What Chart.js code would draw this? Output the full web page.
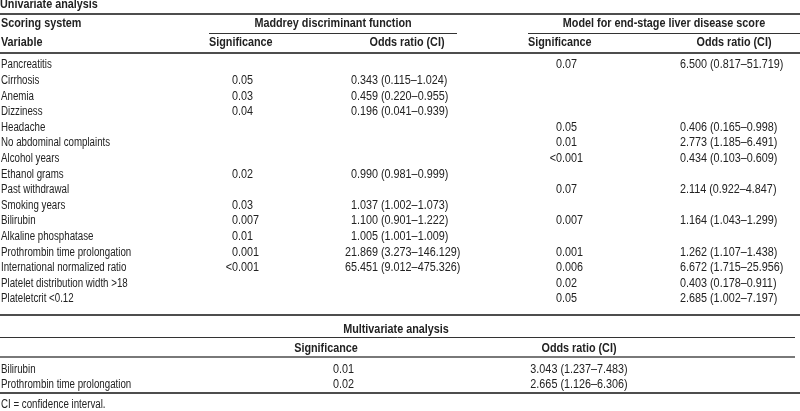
<!DOCTYPE html>
<html>
<head>
<meta charset="utf-8">
<title>Univariate and multivariate analysis</title>
<script src="https://cdn.jsdelivr.net/npm/chart.js@4.4.1/dist/chart.umd.min.js"></script>
<style>
    html, body { margin: 0; padding: 0; background: #fff; }
    .chart-body { position: relative; width: 800px; height: 411px; }
</style>
</head>
<body>
<div class="chart-body">
    <canvas id="tableChart"></canvas>
</div>
<script>
// ---- Table data ----
const variables = [
    'Pancreatitis', 'Cirrhosis', 'Anemia', 'Dizziness', 'Headache',
    'No abdominal complaints', 'Alcohol years', 'Ethanol grams', 'Past withdrawal',
    'Smoking years', 'Bilirubin', 'Alkaline phosphatase', 'Prothrombin time prolongation',
    'International normalized ratio', 'Platelet distribution width >18', 'Plateletcrit <0.12'
];
const maddreySig = [
    null, '0.05', '0.03', '0.04', null, null, null, '0.02', null,
    '0.03', '0.007', '0.01', '0.001', '<0.001', null, null
];
const maddreyOdds = [
    null, '0.343 (0.115–1.024)', '0.459 (0.220–0.955)', '0.196 (0.041–0.939)', null, null, null,
    '0.990 (0.981–0.999)', null, '1.037 (1.002–1.073)', '1.100 (0.901–1.222)', '1.005 (1.001–1.009)',
    '21.869 (3.273–146.129)', '65.451 (9.012–475.326)', null, null
];
const meldSig = [
    '0.07', null, null, null, '0.05', '0.01', '<0.001', null, '0.07',
    null, '0.007', null, '0.001', '0.006', '0.02', '0.05'
];
const meldOdds = [
    '6.500 (0.817–51.719)', null, null, null, '0.406 (0.165–0.998)', '2.773 (1.185–6.491)',
    '0.434 (0.103–0.609)', null, '2.114 (0.922–4.847)', null, '1.164 (1.043–1.299)', null,
    '1.262 (1.107–1.438)', '6.672 (1.715–25.956)', '0.403 (0.178–0.911)', '2.685 (1.002–7.197)'
];
const multiVariables = ['Bilirubin', 'Prothrombin time prolongation'];
const multiSig = ['0.01', '0.02'];
const multiOdds = ['3.043 (1.237–7.483)', '2.665 (1.126–6.306)'];

const titleUni = 'Univariate analysis';
const titleMulti = 'Multivariate analysis';
const groupLabels = ['Maddrey discriminant function', 'Model for end-stage liver disease score'];
const stubLabels = ['Scoring system', 'Variable'];
const subLabels = ['Significance', 'Odds ratio (CI)'];
const footnote = 'CI = confidence interval.';

// ---- Layout (x in page units, y in row units; row i of the univariate block sits at y = i) ----
const LAYOUT = {
    font: '"Liberation Sans", Arial, sans-serif',
    size: 12,
    squeeze: { text: 0.81, num: 0.9, bold: 0.9 },
    text: '#222',
    rule: '#4d4d4d',
    rows: { uniTitle: -3.85, scoring: -2.63, variable: -1.41, multiTitle: 16.99, multiHead: 18.21, multiFirst: 19.55, multiStep: 0.962, note: 21.8 },
    rules: [
        { y: -3.27, x0: 0, x1: 800, w: 2 },
        { y: -2.05, x0: 209, x1: 457, w: 1 },
        { y: -2.05, x0: 528, x1: 800, w: 1 },
        { y: -0.77, x0: 0, x1: 800, w: 2 },
        { y: 16.03, x0: 0, x1: 800, w: 2 },
        { y: 17.44, x0: 0, x1: 795, w: 1 },
        { y: 18.72, x0: 0, x1: 795, w: 1.5 },
        { y: 21.03, x0: 0, x1: 800, w: 2 }
    ],
    cols: {
        variable: 1,
        maddreySig: 232, maddreyOdds: 381,
        meldSig: 556, meldOdds: 680,
        groupCenters: [333, 664],
        subSig: [209, 528], subOdds: [407, 734],
        multiTitle: 396,
        multiSigHead: 326, multiOddsHead: 579,
        multiSig: 333, multiOdds: 579
    }
};

// Draw one text cell.
// align: left | center | paren (left edge of "(" at x) | hang (a leading "<" hangs left of x)
// kind: text | num | bold
function drawCell(ctx, text, x, y, align, kind = 'text') {
    if (text == null) return;
    const sx = LAYOUT.squeeze[kind];
    const font = (kind === 'bold' ? 'bold ' : '') + LAYOUT.size + 'px ' + LAYOUT.font;
    ctx.font = font;
    const w = ctx.measureText(text).width * sx;
    let left = x;
    if (align === 'center') left = x - w / 2;
    if (align === 'paren') {
        const pre = text.slice(0, text.indexOf('('));
        left = x - ctx.measureText(pre).width * sx;
    }
    if (align === 'hang' && text[0] === '<') {
        const lt = ctx.measureText('<').width * sx;
        text = text.slice(1);
        drawCell(ctx, '<', x - lt, y, 'left', kind);
        ctx.font = font;
    }
    ctx.save();
    ctx.translate(left, y);
    ctx.scale(sx, 1);
    ctx.fillStyle = LAYOUT.text;
    ctx.textAlign = 'left';
    ctx.textBaseline = 'middle';
    ctx.fillText(text, 0, 0);
    ctx.restore();
}

const tablePlugin = {
    id: 'tableDraw',
    afterDraw(chart) {
        const { ctx, scales: { x, y } } = chart;
        const px = v => x.getPixelForValue(v);
        const py = v => y.getPixelForValue(v);
        const c = LAYOUT.cols;
        const r = LAYOUT.rows;

        // Rules
        LAYOUT.rules.forEach(rule => {
            const yy = Math.round(py(rule.y)) + (rule.w === 1 ? 0.5 : 0);
            ctx.save();
            ctx.strokeStyle = rule.w >= 1.5 ? LAYOUT.rule : '#333';
            ctx.lineWidth = rule.w;
            ctx.beginPath();
            ctx.moveTo(px(rule.x0), yy);
            ctx.lineTo(px(rule.x1), yy);
            ctx.stroke();
            ctx.restore();
        });

        // Header block
        drawCell(ctx, titleUni, px(0), py(r.uniTitle), 'left', 'bold');
        drawCell(ctx, stubLabels[0], px(c.variable), py(r.scoring), 'left', 'bold');
        drawCell(ctx, stubLabels[1], px(c.variable), py(r.variable), 'left', 'bold');
        groupLabels.forEach((g, i) => {
            drawCell(ctx, g, px(c.groupCenters[i]), py(r.scoring), 'center', 'bold');
            drawCell(ctx, subLabels[0], px(c.subSig[i]), py(r.variable), 'left', 'bold');
            drawCell(ctx, subLabels[1], px(c.subOdds[i]), py(r.variable), 'center', 'bold');
        });

        // Univariate rows
        variables.forEach((name, i) => {
            const yy = py(i);
            drawCell(ctx, name, px(c.variable), yy, 'left');
            drawCell(ctx, maddreySig[i], px(c.maddreySig), yy, 'hang', 'num');
            drawCell(ctx, maddreyOdds[i], px(c.maddreyOdds), yy, 'paren', 'num');
            drawCell(ctx, meldSig[i], px(c.meldSig), yy, 'hang', 'num');
            drawCell(ctx, meldOdds[i], px(c.meldOdds), yy, 'left', 'num');
        });

        // Multivariate block
        drawCell(ctx, titleMulti, px(c.multiTitle), py(r.multiTitle), 'center', 'bold');
        drawCell(ctx, subLabels[0], px(c.multiSigHead), py(r.multiHead), 'center', 'bold');
        drawCell(ctx, subLabels[1], px(c.multiOddsHead), py(r.multiHead), 'center', 'bold');
        multiVariables.forEach((name, i) => {
            const yy = py(r.multiFirst + i * r.multiStep);
            drawCell(ctx, name, px(c.variable), yy, 'left');
            drawCell(ctx, multiSig[i], px(c.multiSig), yy, 'left', 'num');
            drawCell(ctx, multiOdds[i], px(c.multiOdds), yy, 'center', 'num');
        });

        drawCell(ctx, footnote, px(c.variable), py(r.note), 'left');
    }
};

const canvas = document.getElementById('tableChart');
const chart = new Chart(canvas.getContext('2d'), {
    type: 'scatter',
    data: { datasets: [] },
    options: {
        responsive: true,
        maintainAspectRatio: false,
        animation: false,
        layout: { padding: 0 },
        plugins: { legend: { display: false }, tooltip: { enabled: false } },
        scales: {
            x: { type: 'linear', min: 0, max: 800, display: false },
            y: { type: 'linear', min: -65 / 15.6, max: (411 - 65) / 15.6, reverse: true, display: false }
        }
    },
    plugins: [tablePlugin]
});
</script>
</body>
</html>
